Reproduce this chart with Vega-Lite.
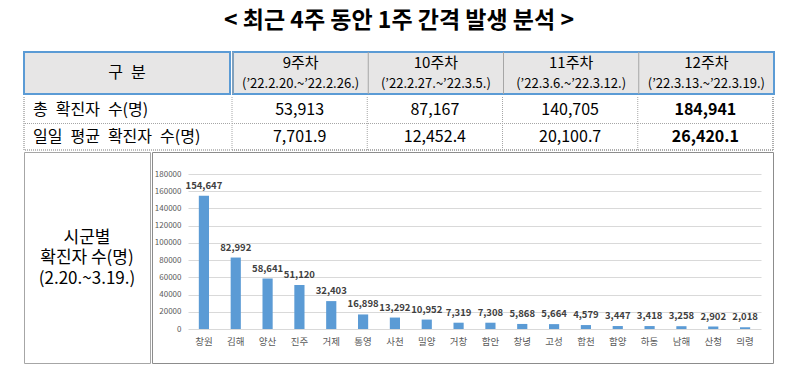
{
  "$schema": "https://vega.github.io/schema/vega-lite/v6.json",
  "padding": {"left": 23, "top": 9, "right": 20, "bottom": 10},
  "background": "#ffffff",
  "title": {"text": "< 최근 4주 동안 1주 간격 발생 분석 >", "font": "Noto Sans CJK KR", "fontSize": 23, "fontWeight": "bold", "color": "#000000", "anchor": "middle", "offset": 18},
  "config": {"view": {"stroke": null}, "font": "Noto Sans CJK KR"},
  "datasets": {
    "weeks": [
      {"week": "9주차", "period": "(’22.2.20.~’22.2.26.)", "total": 53913, "avg": 7701.9},
      {"week": "10주차", "period": "(’22.2.27.~’22.3.5.)", "total": 87167, "avg": 12452.4},
      {"week": "11주차", "period": "(’22.3.6.~’22.3.12.)", "total": 140705, "avg": 20100.7},
      {"week": "12주차", "period": "(’22.3.13.~’22.3.19.)", "total": 184941, "avg": 26420.1}
    ],
    "rowlabels": [
      {"row": "total", "label": "총\u2002확진자\u2002수(명)"},
      {"row": "avg", "label": "일일\u2002평균\u2002확진자\u2002수(명)"}
    ],
    "head": [{"label": "구\u2002분"}],
    "side": [{"label": "시군별\n확진자 수(명)\n(2.20.~3.19.)"}],
    "cities": [
      {"city": "창원", "count": 154647},
      {"city": "김해", "count": 82992},
      {"city": "양산", "count": 58641},
      {"city": "진주", "count": 51120},
      {"city": "거제", "count": 32403},
      {"city": "통영", "count": 16898},
      {"city": "사천", "count": 13292},
      {"city": "밀양", "count": 10952},
      {"city": "거창", "count": 7319},
      {"city": "함안", "count": 7308},
      {"city": "창녕", "count": 5868},
      {"city": "고성", "count": 5664},
      {"city": "합천", "count": 4579},
      {"city": "함양", "count": 3447},
      {"city": "하동", "count": 3418},
      {"city": "남해", "count": 3258},
      {"city": "산청", "count": 2902},
      {"city": "의령", "count": 2018}
    ]
  },
  "vconcat": [
    {
      "hconcat": [
        {
          "width": 206, "height": 42,
          "view": {"fill": "#e7e6e6", "stroke": "#5b9bd5", "strokeWidth": 2},
          "data": {"name": "head"},
          "mark": {"type": "text", "fontSize": 16, "color": "#000000"},
          "encoding": {"text": {"field": "label"}}
        },
        {
          "width": 541, "height": 42,
          "view": {"fill": "#e7e6e6", "stroke": "#5b9bd5", "strokeWidth": 2},
          "data": {"name": "weeks"},
          "layer": [
            {
              "transform": [{"fold": ["week", "period"], "as": ["key", "label"]}],
              "mark": {"type": "text", "color": "#000000"},
              "encoding": {
                "x": {"field": "week", "type": "nominal", "scale": {"domain": ["9주차", "10주차", "11주차", "12주차"], "paddingInner": 0, "paddingOuter": 0}, "axis": null},
                "y": {"field": "key", "type": "nominal", "scale": {"domain": ["week", "period"], "paddingInner": 0, "paddingOuter": 0.2}, "axis": null},
                "text": {"field": "label"},
                "size": {"field": "key", "type": "nominal", "scale": {"domain": ["week", "period"], "range": [15, 13]}, "legend": null}
              }
            },
            {
              "mark": {"type": "rule", "color": "#a6a6a6", "strokeWidth": 1},
              "encoding": {"x": {"field": "week", "type": "nominal", "bandPosition": 0}}
            }
          ]
        }
      ],
      "spacing": 0
    },
    {
      "hconcat": [
        {
          "width": 206, "height": 53,
          "data": {"name": "rowlabels"},
          "layer": [
            {
              "mark": {"type": "text", "fontSize": 16, "align": "left", "dx": 9, "color": "#000000"},
              "encoding": {
                "x": {"datum": 0, "type": "quantitative", "scale": {"domain": [0, 1]}, "axis": null},
                "y": {"field": "row", "type": "nominal", "scale": {"domain": ["total", "avg"], "paddingInner": 0, "paddingOuter": 0}, "axis": null},
                "text": {"field": "label"}
              }
            },
            {
              "mark": {"type": "rule", "color": "#a6a6a6", "strokeDash": [1, 1]},
              "encoding": {"x": {"datum": 0, "type": "quantitative"}}
            },
            {
              "mark": {"type": "rule", "color": "#a6a6a6", "strokeDash": [1, 1]},
              "encoding": {"y": {"datum": "avg", "bandPosition": 0}}
            },
            {
              "mark": {"type": "rule", "color": "#a6a6a6", "strokeDash": [1, 1]},
              "encoding": {"y": {"datum": "avg", "bandPosition": 1}}
            }
          ]
        },
        {
          "width": 541, "height": 53,
          "data": {"name": "weeks"},
          "layer": [
            {
              "transform": [{"filter": "datum.week !== '12주차'"}],
              "mark": {"type": "text", "fontSize": 16, "color": "#000000"},
              "encoding": {
                "x": {"field": "week", "type": "nominal", "scale": {"domain": ["9주차", "10주차", "11주차", "12주차"], "paddingInner": 0, "paddingOuter": 0}, "axis": null},
                "y": {"datum": "total", "scale": {"domain": ["total", "avg"], "paddingInner": 0, "paddingOuter": 0}, "axis": null},
                "text": {"field": "total", "type": "quantitative", "format": ","}
              }
            },
            {
              "transform": [{"filter": "datum.week !== '12주차'"}],
              "mark": {"type": "text", "fontSize": 16, "color": "#000000"},
              "encoding": {
                "x": {"field": "week", "type": "nominal"},
                "y": {"datum": "avg"},
                "text": {"field": "avg", "type": "quantitative", "format": ",.1f"}
              }
            },
            {
              "transform": [{"filter": "datum.week === '12주차'"}],
              "mark": {"type": "text", "fontSize": 16, "fontWeight": "bold", "color": "#000000"},
              "encoding": {
                "x": {"field": "week", "type": "nominal"},
                "y": {"datum": "total"},
                "text": {"field": "total", "type": "quantitative", "format": ","}
              }
            },
            {
              "transform": [{"filter": "datum.week === '12주차'"}],
              "mark": {"type": "text", "fontSize": 16, "fontWeight": "bold", "color": "#000000"},
              "encoding": {
                "x": {"field": "week", "type": "nominal"},
                "y": {"datum": "avg"},
                "text": {"field": "avg", "type": "quantitative", "format": ",.1f"}
              }
            },
            {
              "mark": {"type": "rule", "color": "#a6a6a6", "strokeDash": [1, 1]},
              "encoding": {"x": {"field": "week", "type": "nominal", "bandPosition": 0}}
            },
            {
              "mark": {"type": "rule", "color": "#a6a6a6", "strokeDash": [1, 1]},
              "encoding": {"x": {"datum": "12주차", "bandPosition": 1}}
            },
            {
              "mark": {"type": "rule", "color": "#a6a6a6", "strokeDash": [1, 1]},
              "encoding": {"y": {"datum": "avg", "bandPosition": 0}}
            },
            {
              "mark": {"type": "rule", "color": "#a6a6a6", "strokeDash": [1, 1]},
              "encoding": {"y": {"datum": "avg", "bandPosition": 1}}
            }
          ]
        }
      ],
      "spacing": 0
    },
    {
      "hconcat": [
        {
          "width": 126, "height": 211,
          "view": {"stroke": "#a6a6a6", "strokeWidth": 1},
          "data": {"name": "side"},
          "mark": {"type": "text", "fontSize": 17, "lineBreak": "\n", "lineHeight": 20.5, "dy": -20, "color": "#000000"},
          "encoding": {"text": {"field": "label"}}
        },
        {
          "width": 621, "height": 211,
          "view": {"stroke": "#8c8c8c", "strokeWidth": 1},
          "data": {"name": "cities"},
          "layer": [
            {
              "mark": {"type": "bar", "color": "#5b9bd5"},
              "encoding": {
                "x": {"field": "city", "type": "nominal", "sort": null, "scale": {"range": [36, 609], "paddingInner": 0.68, "paddingOuter": 0.34},
                  "axis": {"title": null, "domain": false, "ticks": false, "labelAngle": 0, "labelPadding": 7, "offset": -34, "labelFontSize": 9.5, "labelColor": "#595959", "labelFont": "Noto Sans CJK KR"}},
                "y": {"field": "count", "type": "quantitative", "scale": {"domain": [0, 180000], "range": [177, 22], "nice": false},
                  "axis": {"title": null, "values": [0, 20000, 40000, 60000, 80000, 100000, 120000, 140000, 160000, 180000], "tickCount": 20, "format": "d", "domain": false, "ticks": false, "tickSize": 0, "labelPadding": 2, "offset": -31, "labelFontSize": 8, "labelColor": "#595959", "labelOverlap": false, "grid": true, "gridColor": "#d9d9d9", "gridWidth": 1}}
              }
            },
            {
              "mark": {"type": "text", "fontSize": 9.5, "fontWeight": "bold", "color": "#404040", "baseline": "bottom", "dy": -5},
              "encoding": {
                "x": {"field": "city", "type": "nominal", "sort": null},
                "y": {"field": "count", "type": "quantitative"},
                "text": {"field": "count", "type": "quantitative", "format": ","}
              }
            }
          ]
        }
      ],
      "spacing": 0
    }
  ],
  "spacing": 0
}
